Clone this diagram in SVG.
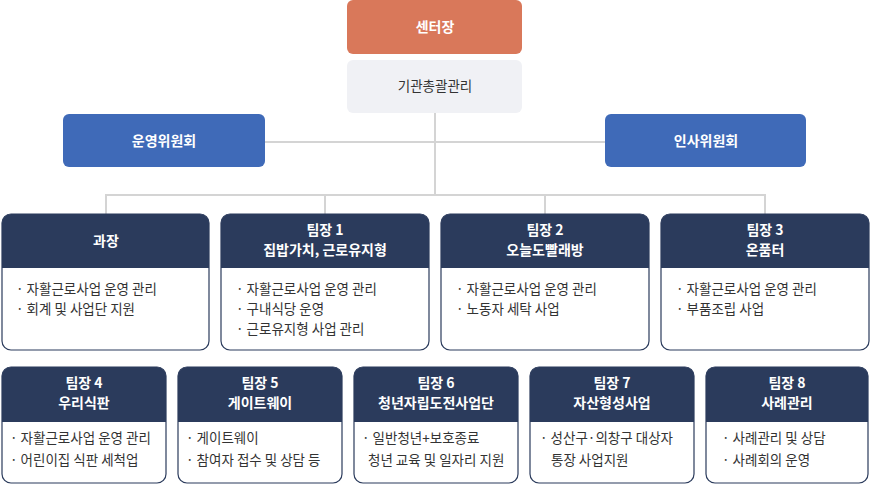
<svg xmlns="http://www.w3.org/2000/svg" width="872" height="487" viewBox="0 0 872 487">
<style>
text{font-family:"Noto Sans CJK KR","Noto Sans",sans-serif}
.t{fill:#fff;font-size:14px;font-weight:bold;text-anchor:middle}
.b{fill:#333;font-size:13.5px}
.hd{fill:#2B3B5C}
.bx{fill:#fff;stroke:#2B3B5C;stroke-width:1.2}
.ln{stroke:#D4D4D4;stroke-width:2;fill:none}
</style>
<g id="connectors">
<path class="ln" d="M435 113V195M265 142H605M106 214V195H765V214M325 195V214M545 195V214"/>
</g>
<g id="n0"><rect x="347" y="0" width="175" height="54" rx="6" fill="#D9785A"/><text class="t" x="435" y="32">센터장</text></g>
<g id="n1"><rect x="347" y="60" width="175" height="53" rx="6" fill="#F0F1F5"/><text x="435" y="91" text-anchor="middle" font-size="13.5" fill="#333">기관총괄관리</text></g>
<g id="n2"><rect x="63" y="114" width="202" height="53" rx="6" fill="#3F6AB8"/><text class="t" x="164" y="146">운영위원회</text></g>
<g id="n3"><rect x="605" y="114" width="201" height="53" rx="6" fill="#3F6AB8"/><text class="t" x="706" y="146">인사위원회</text></g>
<g id="r1a"><rect class="bx" x="2" y="214" width="207" height="136" rx="9"/><path class="hd" d="M2 268V223a9 9 0 0 1 9-9H200a9 9 0 0 1 9 9V268Z"/><text class="t" x="106" y="246">과장</text><text class="b" x="16" y="294">· 자활근로사업 운영 관리</text><text class="b" x="16" y="314">· 회계 및 사업단 지원</text></g>
<g id="r1b"><rect class="bx" x="221" y="214" width="208" height="136" rx="9"/><path class="hd" d="M221 268V223a9 9 0 0 1 9-9H420a9 9 0 0 1 9 9V268Z"/><text class="t" x="325" y="235">팀장 1</text><text class="t" x="325" y="255">집밥가치, 근로유지형</text><text class="b" x="236" y="294">· 자활근로사업 운영 관리</text><text class="b" x="236" y="314">· 구내식당 운영</text><text class="b" x="236" y="334">· 근로유지형 사업 관리</text></g>
<g id="r1c"><rect class="bx" x="441" y="214" width="208" height="136" rx="9"/><path class="hd" d="M441 268V223a9 9 0 0 1 9-9H640a9 9 0 0 1 9 9V268Z"/><text class="t" x="545" y="235">팀장 2</text><text class="t" x="545" y="255">오늘도빨래방</text><text class="b" x="456" y="294">· 자활근로사업 운영 관리</text><text class="b" x="456" y="314">· 노동자 세탁 사업</text></g>
<g id="r1d"><rect class="bx" x="661" y="214" width="208" height="136" rx="9"/><path class="hd" d="M661 268V223a9 9 0 0 1 9-9H860a9 9 0 0 1 9 9V268Z"/><text class="t" x="765" y="235">팀장 3</text><text class="t" x="765" y="255">온품터</text><text class="b" x="676" y="294">· 자활근로사업 운영 관리</text><text class="b" x="676" y="314">· 부품조립 사업</text></g>
<g id="r2a"><rect class="bx" x="2" y="367" width="164" height="116" rx="9"/><path class="hd" d="M2 422V376a9 9 0 0 1 9-9H157a9 9 0 0 1 9 9V422Z"/><text class="t" x="84" y="388">팀장 4</text><text class="t" x="84" y="408">우리식판</text><text class="b" x="10" y="443">· 자활근로사업 운영 관리</text><text class="b" x="10" y="465">· 어린이집 식판 세척업</text></g>
<g id="r2b"><rect class="bx" x="178" y="367" width="164" height="116" rx="9"/><path class="hd" d="M178 422V376a9 9 0 0 1 9-9H333a9 9 0 0 1 9 9V422Z"/><text class="t" x="260" y="388">팀장 5</text><text class="t" x="260" y="408">게이트웨이</text><text class="b" x="186" y="443">· 게이트웨이</text><text class="b" x="186" y="465">· 참여자 접수 및 상담 등</text></g>
<g id="r2c"><rect class="bx" x="354" y="367" width="164" height="116" rx="9"/><path class="hd" d="M354 422V376a9 9 0 0 1 9-9H509a9 9 0 0 1 9 9V422Z"/><text class="t" x="436" y="388">팀장 6</text><text class="t" x="436" y="408">청년자립도전사업단</text><text class="b" x="362" y="443">· 일반청년+보호종료</text><text class="b" x="368" y="465">청년 교육 및 일자리 지원</text></g>
<g id="r2d"><rect class="bx" x="530" y="367" width="164" height="116" rx="9"/><path class="hd" d="M530 422V376a9 9 0 0 1 9-9H685a9 9 0 0 1 9 9V422Z"/><text class="t" x="612" y="388">팀장 7</text><text class="t" x="612" y="408">자산형성사업</text><text class="b" x="540" y="443">· 성산구·의창구 대상자</text><text class="b" x="551" y="465">통장 사업지원</text></g>
<g id="r2e"><rect class="bx" x="706" y="367" width="162" height="116" rx="9"/><path class="hd" d="M706 422V376a9 9 0 0 1 9-9H859a9 9 0 0 1 9 9V422Z"/><text class="t" x="787" y="388">팀장 8</text><text class="t" x="787" y="408">사례관리</text><text class="b" x="722" y="443">· 사례관리 및 상담</text><text class="b" x="722" y="465">· 사례회의 운영</text></g>
</svg>
